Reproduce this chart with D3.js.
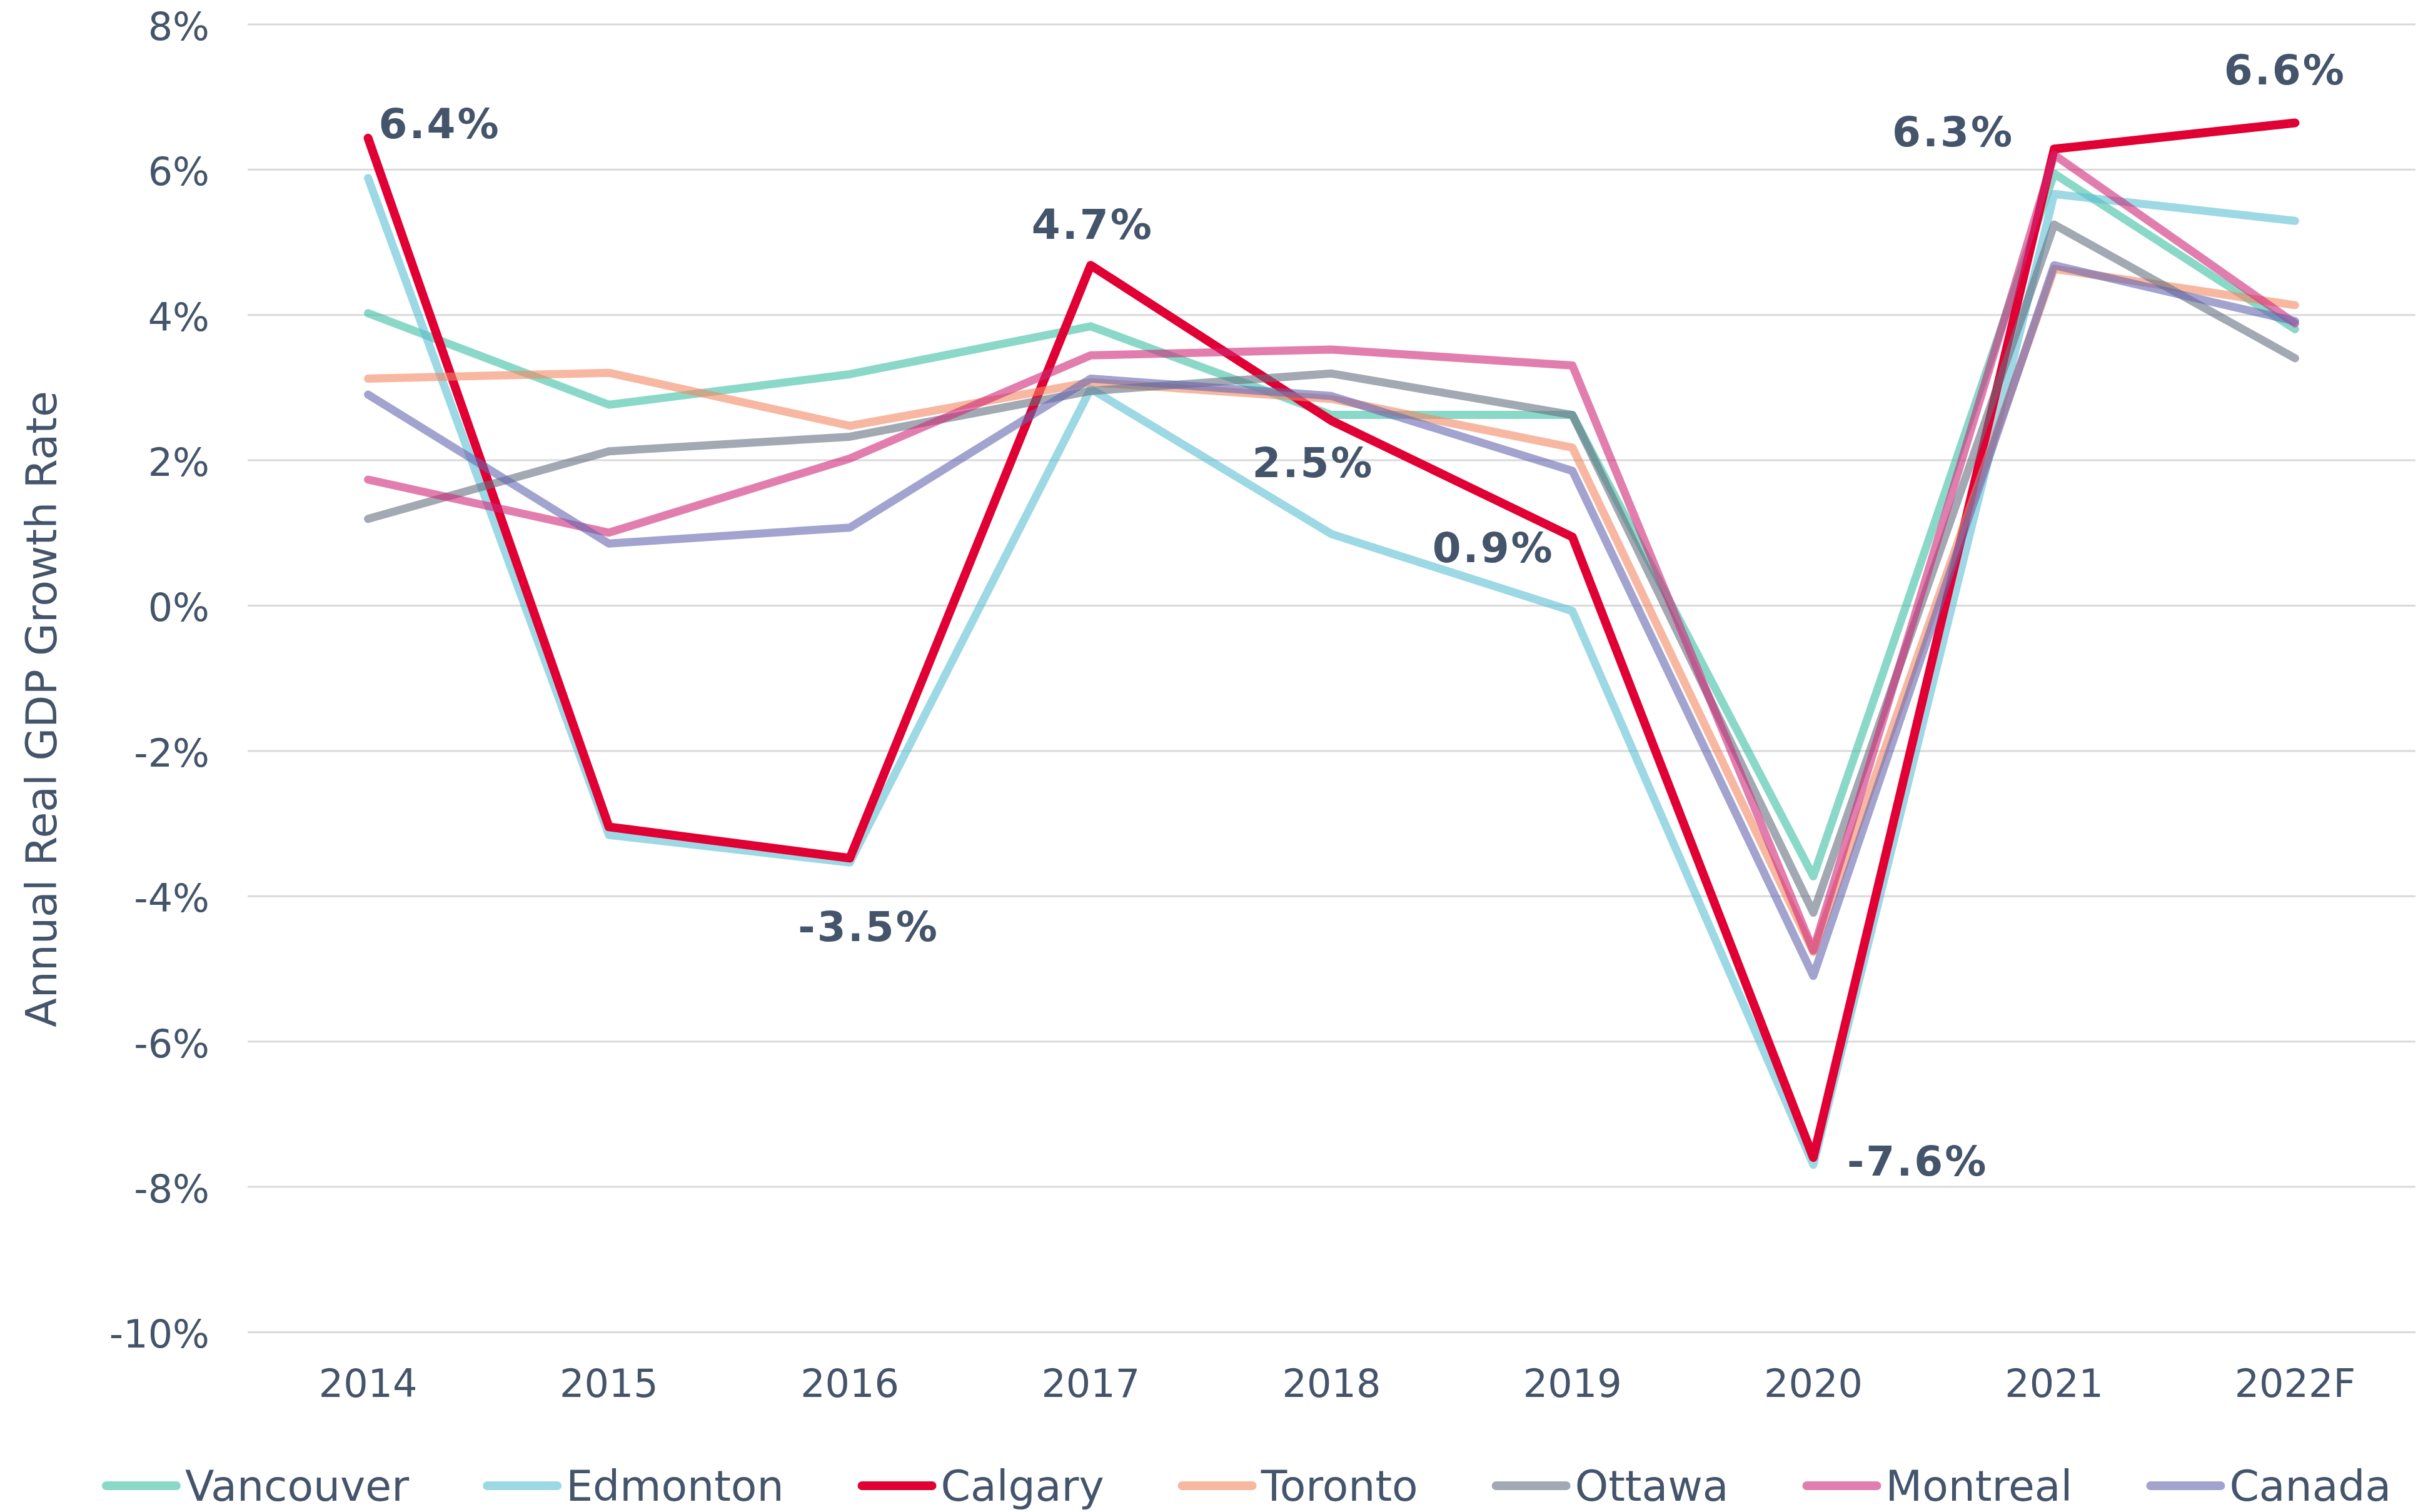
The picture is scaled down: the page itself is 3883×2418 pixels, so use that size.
<!DOCTYPE html>
<html>
<head>
<meta charset="utf-8">
<script src="https://cdn.jsdelivr.net/npm/d3@7"></script>
<style>
  body { margin: 0; background: #ffffff; }
  text { font-family: Verdana, 'DejaVu Sans', sans-serif; fill: #44546a; }
</style>
</head>
<body>
<script>
'use strict';

// categories and values
const years = ['2014', '2015', '2016', '2017', '2018', '2019', '2020', '2021', '2022F'];
const yTicks = [-10, -8, -6, -4, -2, 0, 2, 4, 6, 8];

const vancouver = [4.02, 2.76, 3.18, 3.84, 2.62, 2.62, -3.73, 5.94, 3.80];
const edmonton  = [5.88, -3.16, -3.54, 2.98, 0.98, -0.08, -7.70, 5.66, 5.29];
const calgary   = [6.43, -3.05, -3.48, 4.68, 2.54, 0.94, -7.60, 6.28, 6.64];
const toronto   = [3.12, 3.20, 2.47, 3.07, 2.84, 2.17, -4.77, 4.63, 4.13];
const ottawa    = [1.19, 2.12, 2.32, 2.95, 3.19, 2.62, -4.23, 5.24, 3.40];
const montreal  = [1.73, 1.00, 2.02, 3.44, 3.52, 3.30, -4.75, 6.20, 3.88];
const canada    = [2.90, 0.85, 1.07, 3.12, 2.88, 1.85, -5.10, 4.68, 3.91];

const seriesNames = ['Vancouver', 'Edmonton', 'Calgary', 'Toronto', 'Ottawa', 'Montreal', 'Canada'];
const seriesValues = [vancouver, edmonton, calgary, toronto, ottawa, montreal, canada];

// data labels on the Calgary line
const calgaryLabels = ['6.4%', null, '-3.5%', '4.7%', '2.5%', '0.9%', '-7.6%', '6.3%', '6.6%'];

// styles
const COLORS = {
  'Vancouver': 'rgb(60,190,163)',
  'Edmonton' : 'rgb(92,190,212)',
  'Calgary'  : '#e00034',
  'Toronto'  : 'rgb(242,135,98)',
  'Ottawa'   : 'rgb(100,112,127)',
  'Montreal' : 'rgb(207,40,120)',
  'Canada'   : 'rgb(102,102,177)'
};

const DIMENSIONS = {
  width : 3883,
  height: 2418,
  plot  : { left: 396, right: 3863, top: 38.4, bottom: 2130 }
};

// label placement relative to the point: anchor, dx, dy(baseline)
const LABEL_POS = [
  ['start', 17, 0], null, ['middle', 30, 133], ['middle', 3, -42], ['end', 68, 90],
  ['end', -29, 40], ['start', 54, 29], ['end', -64, -4], ['middle', -16, -61]
];

let svg = d3.select('body').append('svg')
  .attr('width', DIMENSIONS.width)
  .attr('height', DIMENSIONS.height);

let x = d3.scaleBand()
  .domain(years)
  .range([DIMENSIONS.plot.left, DIMENSIONS.plot.right]);
let y = d3.scaleLinear()
  .domain([-10, 8])
  .range([DIMENSIONS.plot.bottom, DIMENSIONS.plot.top]);

const plotW = DIMENSIONS.plot.right - DIMENSIONS.plot.left;

// gridlines
svg.append('g')
  .attr('class', 'grid')
  .attr('transform', 'translate(' + DIMENSIONS.plot.left + ',0)')
  .call(d3.axisLeft(y).tickValues(yTicks).tickSize(-plotW).tickFormat(''))
  .call(g => g.select('.domain').remove())
  .call(g => g.selectAll('line').attr('stroke', '#d9d9d9').attr('stroke-width', 3));

// y axis labels
svg.append('g')
  .attr('transform', 'translate(' + DIMENSIONS.plot.left + ',0)')
  .call(d3.axisLeft(y).tickValues(yTicks).tickSize(0).tickPadding(61).tickFormat(d => d + '%'))
  .call(g => g.select('.domain').remove())
  .call(g => g.selectAll('text')
    .attr('font-size', 62)
    .attr('font-family', "Verdana, 'DejaVu Sans', sans-serif")
    .attr('fill', '#44546a')
    .attr('dy', '0.4em'));

// x axis labels
svg.append('g')
  .attr('transform', 'translate(0,' + DIMENSIONS.plot.bottom + ')')
  .call(d3.axisBottom(x).tickSize(0).tickPadding(60))
  .call(g => g.select('.domain').remove())
  .call(g => g.selectAll('text')
    .attr('font-size', 62)
    .attr('font-family', "Verdana, 'DejaVu Sans', sans-serif")
    .attr('fill', '#44546a'));

// axis title
svg.append('text')
  .attr('transform', 'translate(90,1134) rotate(-90)')
  .attr('text-anchor', 'middle')
  .attr('font-size', 68)
  .text('Annual Real GDP Growth Rate');

// lines
let line = d3.line()
  .x((d, i) => x(years[i]) + x.bandwidth() / 2)
  .y(d => y(d));

svg.append('g').selectAll('path')
  .data(seriesValues)
  .enter()
  .append('path')
  .attr('d', d => line(d))
  .attr('fill', 'none')
  .attr('stroke', (d, i) => COLORS[seriesNames[i]])
  .attr('stroke-opacity', (d, i) => seriesNames[i] === 'Calgary' ? 1 : 0.6)
  .attr('stroke-width', (d, i) => seriesNames[i] === 'Calgary' ? 14 : 13)
  .attr('stroke-linejoin', 'round')
  .attr('stroke-linecap', 'round');

// Calgary data labels
svg.append('g').selectAll('text')
  .data(calgaryLabels.map((t, i) => ({ t: t, i: i })).filter(d => d.t !== null))
  .enter()
  .append('text')
  .attr('x', d => x(years[d.i]) + x.bandwidth() / 2 + LABEL_POS[d.i][1])
  .attr('y', d => y(calgary[d.i]) + LABEL_POS[d.i][2])
  .attr('text-anchor', d => LABEL_POS[d.i][0])
  .attr('font-size', 66)
  .attr('font-weight', 'bold')
  .attr('letter-spacing', 3)
  .text(d => d.t);

// legend (sits on the bottom edge, as in the original)
let legend = svg.append('g').attr('transform', 'translate(0,2376)');
let cursor = 163;
seriesNames.forEach((name, i) => {
  let item = legend.append('g').attr('transform', 'translate(' + cursor + ',0)');
  item.append('line')
    .attr('x1', 7).attr('x2', 119)
    .attr('y1', 0).attr('y2', 0)
    .attr('stroke', COLORS[name])
    .attr('stroke-opacity', name === 'Calgary' ? 1 : 0.6)
    .attr('stroke-width', 14)
    .attr('stroke-linecap', 'round');
  let label = item.append('text')
    .attr('x', 133)
    .attr('y', 24)
    .attr('font-size', 68)
    .text(name);
  cursor += 133 + label.node().getComputedTextLength() + 118;
});
</script>
</body>
</html>
